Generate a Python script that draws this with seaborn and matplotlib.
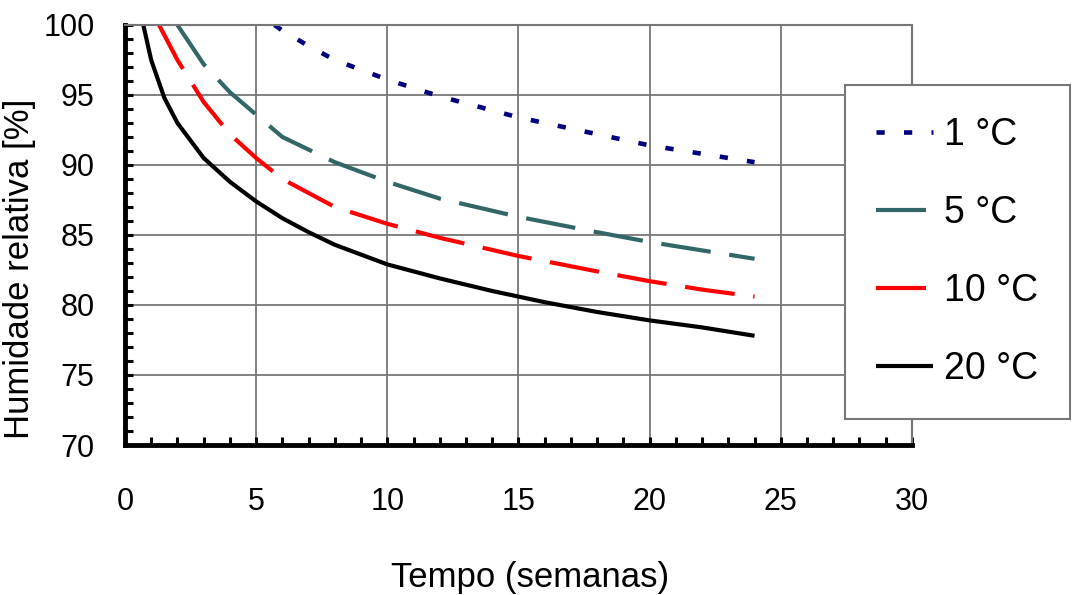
import numpy as np
import pandas as pd
import seaborn as sns
import matplotlib.pyplot as plt
from matplotlib.ticker import MultipleLocator

t_1c = [5.7, 6, 7, 8, 10, 12, 15, 18, 20, 22, 24]
rh_1c = [100, 99.6, 98.5, 97.5, 96.1, 94.9, 93.4, 92.2, 91.4, 90.8, 90.2]

t_5c = [2, 3, 4, 5, 6, 8, 10, 12, 15, 18, 20, 22, 24]
rh_5c = [100, 97.2, 95.2, 93.6, 92.0, 90.2, 88.8, 87.6, 86.3, 85.2, 84.5, 83.9, 83.3]

t_10c = [1.3, 2, 3, 4, 5, 6, 8, 10, 12, 15, 18, 20, 22, 24]
rh_10c = [100, 97.5, 94.5, 92.2, 90.5, 89.0, 87.0, 85.8, 84.8, 83.5, 82.4, 81.7, 81.1, 80.6]

t_20c = [0.7, 1, 1.5, 2, 3, 4, 5, 6, 7, 8, 10, 12, 14, 16, 18, 20, 22, 24]
rh_20c = [100, 97.5, 94.8, 93.0, 90.5, 88.8, 87.4, 86.2, 85.2, 84.3, 82.9, 81.9, 81.0, 80.2, 79.5, 78.9, 78.4, 77.8]

series = [
    ('1 °C', t_1c, rh_1c, '#000080', (1.8, 4.2), 3.3),
    ('5 °C', t_5c, rh_5c, '#336666', (12, 4.5), 3.0),
    ('10 °C', t_10c, rh_10c, '#ff0000', (12, 4.5), 3.0),
    ('20 °C', t_20c, rh_20c, '#000000', None, 3.0),
]

sns.set_style('white')
plt.rcParams['font.family'] = ['Liberation Sans', 'DejaVu Sans']
plt.rcParams['text.color'] = 'black'
plt.rcParams['axes.labelcolor'] = 'black'
plt.rcParams['xtick.color'] = 'black'
plt.rcParams['ytick.color'] = 'black'

fig = plt.figure(figsize=(10.8, 5.95), dpi=100, facecolor='white')
ax = fig.add_axes([0.1157, 0.2521, 0.7287, 0.7059])

handles = []
for label, t, rh, color, dash, lw in series:
    df = pd.DataFrame({'t': t, 'rh': rh})
    sns.lineplot(data=df, x='t', y='rh', color=color, lw=lw, ax=ax, label=label)
    line = ax.get_lines()[-1]
    if dash is not None:
        line.set_dashes(dash)
    line.set_solid_capstyle('butt')
    handles.append(line)

ax.set_xlim(0, 30)
ax.set_ylim(70, 100)
ax.xaxis.set_major_locator(MultipleLocator(5))
ax.yaxis.set_major_locator(MultipleLocator(5))
ax.xaxis.set_minor_locator(MultipleLocator(1))
ax.yaxis.set_minor_locator(MultipleLocator(1))
ax.grid(True, which='major', color='#777777', lw=1.3)
ax.tick_params(which='both', direction='in', length=6, width=2.2, color='black',
               bottom=True, left=True, top=False, right=False)
ax.tick_params(axis='x', which='major', pad=30, labelsize=22)
ax.tick_params(axis='y', which='major', pad=22, labelsize=22)

for side in ['left', 'bottom']:
    ax.spines[side].set_color('black')
    ax.spines[side].set_linewidth(3.5)
for side in ['top', 'right']:
    ax.spines[side].set_color('#777777')
    ax.spines[side].set_linewidth(1.5)

ax.set_xlabel('Tempo (semanas)', fontsize=25, labelpad=32)
ax.set_ylabel('Humidade relativa [%]', fontsize=25, labelpad=5)
ax.xaxis.label.set_x(0.515)
ax.yaxis.label.set_y(0.42)

ax.get_legend().remove()
leg = fig.legend(handles=handles, labels=[s[0] for s in series],
                 loc='upper left', bbox_to_anchor=(0.782, 0.857),
                 fontsize=27, frameon=True, fancybox=False, framealpha=1,
                 edgecolor='#777777', handlelength=1.5, handletextpad=0.3,
                 labelspacing=1.12, borderpad=0.85, borderaxespad=0)
leg.get_frame().set_linewidth(1.5)

fig.savefig('out.png', dpi=100, facecolor='white')
